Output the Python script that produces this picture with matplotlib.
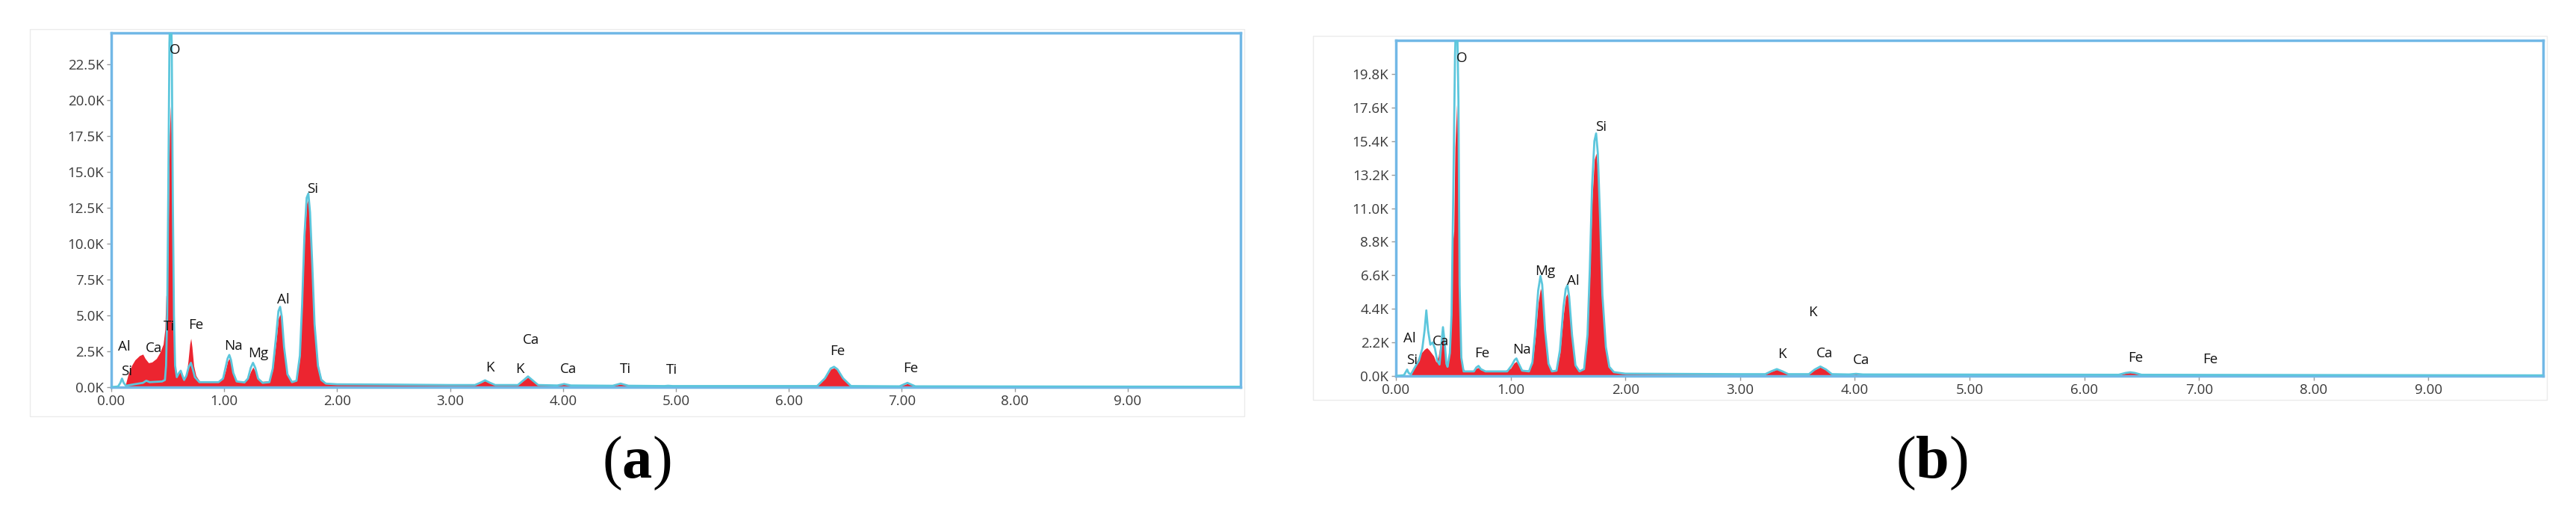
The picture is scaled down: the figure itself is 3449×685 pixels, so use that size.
import numpy as np
import matplotlib
matplotlib.use("Agg")
import matplotlib.pyplot as plt
from matplotlib.patches import Rectangle
from matplotlib.ticker import FuncFormatter

# ---- panel (a): energy (keV) and counts (K) ----
a_red_e = [0.00, 0.12, 0.15, 0.18, 0.21, 0.25, 0.28, 0.30, 0.33, 0.36, 0.40, 0.43, 0.46, 0.475, 0.485,
           0.495, 0.505, 0.515, 0.525, 0.535, 0.545, 0.555, 0.565, 0.58, 0.60, 0.615, 0.63, 0.645,
           0.665, 0.68, 0.695, 0.705, 0.715, 0.73, 0.75, 0.78, 0.85, 0.95, 0.99, 1.01, 1.03, 1.045,
           1.06, 1.08, 1.11, 1.18, 1.21, 1.235, 1.255, 1.275, 1.30, 1.34, 1.40, 1.43, 1.46, 1.48,
           1.495, 1.51, 1.53, 1.56, 1.60, 1.64, 1.67, 1.69, 1.71, 1.73, 1.745, 1.76, 1.78, 1.80,
           1.83, 1.86, 1.90, 2.00, 2.50, 3.00, 3.22, 3.27, 3.31, 3.35, 3.40, 3.60, 3.65, 3.69, 3.73,
           3.78, 3.95, 4.01, 4.07, 4.44, 4.51, 4.58, 4.90, 4.93, 4.97, 6.25, 6.32, 6.37, 6.40, 6.43,
           6.48, 6.55, 6.98, 7.05, 7.12, 10.0]
a_red_k = [0.0, 0.0, 0.9, 1.5, 1.9, 2.2, 2.3, 2.0, 1.7, 1.75, 2.0, 2.4, 3.0, 4.0, 6.4,
           6.0, 11.0, 17.5, 19.6, 17.0, 9.0, 3.5, 1.5, 0.8, 1.0, 1.2, 0.9, 0.55,
           0.9, 1.8, 3.0, 3.4, 2.8, 1.5, 0.8, 0.45, 0.4, 0.4, 0.6, 1.1, 1.8, 2.0,
           1.7, 0.9, 0.45, 0.4, 0.6, 1.1, 1.4, 1.1, 0.6, 0.4, 0.45, 1.2, 3.2, 4.8,
           5.1, 4.5, 2.6, 0.9, 0.45, 0.5, 2.0, 5.5, 10.0, 12.8, 13.1, 12.0, 8.5, 4.5,
           1.6, 0.6, 0.3, 0.22, 0.18, 0.15, 0.15, 0.3, 0.45, 0.3, 0.15, 0.15, 0.45, 0.7, 0.45,
           0.15, 0.12, 0.2, 0.12, 0.1, 0.22, 0.1, 0.08, 0.1, 0.08, 0.08, 0.6, 1.25, 1.35, 1.2,
           0.6, 0.08, 0.06, 0.25, 0.06, 0.03]

a_cyan_e = [0.00, 0.06, 0.08, 0.095, 0.11, 0.13, 0.20, 0.28, 0.31, 0.34, 0.45, 0.475, 0.485, 0.495,
            0.505, 0.515, 0.525, 0.535, 0.545, 0.555, 0.565, 0.58, 0.60, 0.615, 0.63, 0.645, 0.665,
            0.685, 0.705, 0.72, 0.74, 0.78, 0.95, 0.99, 1.01, 1.03, 1.045, 1.06, 1.08, 1.11, 1.18,
            1.21, 1.235, 1.255, 1.275, 1.30, 1.34, 1.40, 1.43, 1.46, 1.48, 1.495, 1.51, 1.53, 1.56,
            1.60, 1.64, 1.67, 1.69, 1.71, 1.73, 1.745, 1.76, 1.78, 1.80, 1.83, 1.86, 1.90, 2.00,
            2.50, 3.00, 3.22, 3.27, 3.31, 3.35, 3.40, 3.60, 3.65, 3.69, 3.73, 3.78, 3.95, 4.01,
            4.07, 4.44, 4.51, 4.58, 4.90, 4.93, 4.97, 6.25, 6.32, 6.37, 6.40, 6.43, 6.48, 6.55,
            6.98, 7.05, 7.12, 10.0]
a_cyan_k = [0.0, 0.05, 0.3, 0.6, 0.3, 0.1, 0.2, 0.3, 0.45, 0.35, 0.4, 0.5, 1.5, 5.0,
            14.0, 24.0, 27.0, 24.0, 13.0, 5.0, 1.5, 0.7, 1.0, 1.15, 0.8, 0.5, 0.8,
            1.4, 1.7, 1.3, 0.7, 0.35, 0.35, 0.6, 1.3, 2.0, 2.25, 1.9, 1.0, 0.4, 0.33,
            0.6, 1.35, 1.7, 1.35, 0.6, 0.3, 0.35, 1.3, 3.6, 5.3, 5.6, 4.9, 2.8, 0.9,
            0.35, 0.45, 2.2, 5.8, 10.5, 13.2, 13.5, 12.2, 8.5, 4.4, 1.5, 0.5, 0.25, 0.2,
            0.18, 0.15, 0.15, 0.32, 0.48, 0.32, 0.15, 0.15, 0.48, 0.75, 0.48, 0.15, 0.12, 0.22,
            0.12, 0.1, 0.25, 0.1, 0.08, 0.1, 0.08, 0.08, 0.62, 1.3, 1.42, 1.25, 0.62, 0.08,
            0.06, 0.3, 0.06, 0.03]

a_lbl = ['O', 'Si', 'Al', 'Ti', 'Fe', 'Al', 'Ca', 'Si', 'Na', 'Mg', 'K', 'K', 'Ca', 'Ca', 'Ti', 'Ti', 'Fe', 'Fe']
a_lbl_e = [0.56, 1.78, 1.525, 0.513, 0.75, 0.115, 0.38, 0.133, 1.08, 1.30, 3.35, 3.62, 3.72, 4.05, 4.55, 4.96, 6.43, 7.08]
a_lbl_k = [23.5, 13.8, 6.1, 4.2, 4.35, 2.8, 2.7, 1.12, 2.84, 2.32, 1.38, 1.25, 3.3, 1.25, 1.23, 1.18, 2.48, 1.3]
a_yticks = [0.0, 2.5, 5.0, 7.5, 10.0, 12.5, 15.0, 17.5, 20.0, 22.5]

# ---- panel (b) ----
b_red_e = [0.00, 0.13, 0.16, 0.19, 0.22, 0.25, 0.27, 0.29, 0.31, 0.33, 0.35, 0.37, 0.39, 0.41, 0.425,
           0.44, 0.455, 0.47, 0.485, 0.495, 0.505, 0.515, 0.53, 0.54, 0.55, 0.56, 0.575, 0.60, 0.68,
           0.70, 0.72, 0.74, 0.78, 0.95, 1.00, 1.03, 1.05, 1.07, 1.10, 1.16, 1.19, 1.215, 1.24,
           1.26, 1.275, 1.30, 1.33, 1.36, 1.40, 1.43, 1.46, 1.48, 1.495, 1.51, 1.535, 1.565, 1.60,
           1.64, 1.67, 1.69, 1.71, 1.73, 1.745, 1.76, 1.78, 1.80, 1.83, 1.86, 1.90, 2.00, 3.00,
           3.22, 3.27, 3.32, 3.37, 3.42, 3.60, 3.65, 3.70, 3.75, 3.80, 3.95, 4.01, 4.07, 6.30,
           6.36, 6.40, 6.44, 6.50, 10.0]
b_red_k = [0.0, 0.0, 0.6, 1.1, 1.5, 1.75, 1.85, 1.7, 1.5, 1.3, 0.9, 1.3, 2.2, 2.85, 2.0,
           0.8, 0.7, 2.0, 5.0, 8.8, 9.5, 15.0, 17.8, 15.0, 7.0, 2.0, 0.6, 0.35, 0.35,
           0.5, 0.55, 0.4, 0.3, 0.35, 0.5, 0.85, 0.95, 0.75, 0.4, 0.38, 0.8, 2.5, 4.8,
           5.75, 5.3, 2.8, 0.8, 0.35, 0.4, 1.5, 4.0, 5.2, 5.4, 4.7, 2.5, 0.7, 0.35,
           0.45, 2.5, 6.5, 11.5, 14.2, 14.6, 13.5, 9.5, 5.0, 1.8, 0.6, 0.25, 0.12, 0.1,
           0.1, 0.28, 0.42, 0.28, 0.1, 0.1, 0.4, 0.58, 0.4, 0.1, 0.08, 0.12, 0.08, 0.06,
           0.18, 0.22, 0.18, 0.06, 0.03]

b_cyan_e = [0.00, 0.07, 0.085, 0.098, 0.11, 0.13, 0.16, 0.20, 0.23, 0.25, 0.265, 0.28, 0.30, 0.32,
            0.34, 0.36, 0.38, 0.395, 0.41, 0.425, 0.44, 0.45, 0.47, 0.485, 0.50, 0.515, 0.53,
            0.545, 0.555, 0.57, 0.59, 0.68, 0.70, 0.72, 0.74, 0.78, 0.97, 1.01, 1.035, 1.05,
            1.065, 1.10, 1.16, 1.19, 1.215, 1.24, 1.26, 1.275, 1.30, 1.33, 1.36, 1.40, 1.43,
            1.46, 1.48, 1.495, 1.51, 1.535, 1.565, 1.60, 1.64, 1.67, 1.69, 1.71, 1.73, 1.745,
            1.76, 1.78, 1.80, 1.83, 1.86, 1.90, 2.00, 3.00, 3.22, 3.27, 3.32, 3.37, 3.42, 3.60,
            3.65, 3.70, 3.75, 3.80, 3.95, 4.01, 4.07, 6.30, 6.36, 6.40, 6.44, 6.50, 10.0]
b_cyan_k = [0.0, 0.05, 0.25, 0.42, 0.2, 0.1, 0.5, 1.0, 1.8, 3.0, 4.3, 3.0, 2.05, 2.2,
            1.8, 1.0, 0.75, 2.0, 3.2, 2.2, 0.8, 0.6, 1.5, 4.0, 12.0, 21.0, 25.0,
            18.0, 6.0, 1.2, 0.3, 0.3, 0.55, 0.66, 0.45, 0.3, 0.3, 0.7, 1.05, 1.15,
            0.9, 0.35, 0.3, 0.9, 3.0, 5.6, 6.55, 6.0, 3.0, 0.8, 0.3, 0.35, 1.7,
            4.5, 5.7, 5.95, 5.2, 2.7, 0.7, 0.3, 0.45, 2.7, 7.0, 12.5, 15.4, 15.9,
            14.6, 10.2, 5.3, 1.9, 0.6, 0.25, 0.15, 0.12, 0.12, 0.3, 0.45, 0.3, 0.12, 0.12,
            0.42, 0.62, 0.42, 0.12, 0.1, 0.14, 0.1, 0.08, 0.2, 0.24, 0.2, 0.08, 0.04]

b_lbl = ['O', 'Si', 'Mg', 'Al', 'K', 'Al', 'Ca', 'Si', 'Fe', 'Na', 'K', 'Ca', 'Ca', 'Fe', 'Fe']
b_lbl_e = [0.571, 1.79, 1.30, 1.543, 3.635, 0.122, 0.39, 0.14, 0.75, 1.094, 3.366, 3.737, 4.054, 6.45, 7.10]
b_lbl_k = [20.8, 16.3, 6.88, 6.24, 4.18, 2.47, 2.23, 1.01, 1.48, 1.71, 1.4, 1.48, 1.05, 1.19, 1.06]
b_yticks = [0.0, 2.2, 4.4, 6.6, 8.8, 11.0, 13.2, 15.4, 17.6, 19.8]

x_ticks = [0, 1, 2, 3, 4, 5, 6, 7, 8, 9]

RED = '#ec2530'
CYAN = '#5cc6dc'
SPINE = '#72b8e6'
TXT = '#3a3a3a'

plt.rcParams['font.family'] = ['Open Sans', 'DejaVu Sans']
plt.rcParams['mathtext.fontset'] = 'custom'
plt.rcParams['mathtext.rm'] = 'Liberation Serif'
plt.rcParams['mathtext.bf'] = 'Liberation Serif:bold'

W, H = 3449, 685
fig = plt.figure(figsize=(W / 100, H / 100), dpi=100)


def px_box(l, t, r, b):
    return [l / W, 1 - b / H, (r - l) / W, (b - t) / H]


def draw_panel(box, frame, red_e, red_k, cyan_e, cyan_k, lbl, lbl_e, lbl_k, yticks, ytop):
    ax = fig.add_axes(px_box(*box))
    ax.fill_between(red_e, red_k, 0, color=RED, lw=0, zorder=2)
    ax.plot(cyan_e, cyan_k, color=CYAN, lw=2.0, zorder=3)
    for t, e, k in zip(lbl, lbl_e, lbl_k):
        ax.text(e, k, t, ha='center', va='center', fontsize=13.5, color='#111111', zorder=4)
    ax.set_xlim(0, 10)
    ax.set_ylim(0, ytop)
    ax.set_xticks(x_ticks)
    ax.set_yticks(yticks)
    ax.xaxis.set_major_formatter(FuncFormatter(lambda v, p: f'{v:.2f}'))
    ax.yaxis.set_major_formatter(FuncFormatter(lambda v, p: f'{v:.1f}K'))
    ax.tick_params(length=4, width=1, color='#9a9a9a', labelsize=13.5, labelcolor=TXT, pad=3)
    for s in ax.spines.values():
        s.set_color(SPINE)
        s.set_linewidth(2.5)
    fl, ft, fr, fb = frame
    fig.add_artist(Rectangle((fl / W, 1 - fb / H), (fr - fl) / W, (fb - ft) / H,
                             transform=fig.transFigure, fill=False, ec='#ebebeb', lw=1.0))
    return ax


draw_panel((149, 44, 1661, 518), (40, 39, 1666, 557), a_red_e, a_red_k, a_cyan_e, a_cyan_k,
           a_lbl, a_lbl_e, a_lbl_k, a_yticks, 24.7)
draw_panel((1869, 54, 3405, 503), (1758, 48, 3410, 535), b_red_e, b_red_k, b_cyan_e, b_cyan_k,
           b_lbl, b_lbl_e, b_lbl_k, b_yticks, 22.0)

fig.text(852 / W, 1 - 620 / H, r'($\mathbf{a}$)', ha='center', va='center', fontsize=58,
         family='Liberation Serif')
fig.text(2586 / W, 1 - 620 / H, r'($\mathbf{b}$)', ha='center', va='center', fontsize=58,
         family='Liberation Serif')

fig.savefig('out.png', dpi=100)
